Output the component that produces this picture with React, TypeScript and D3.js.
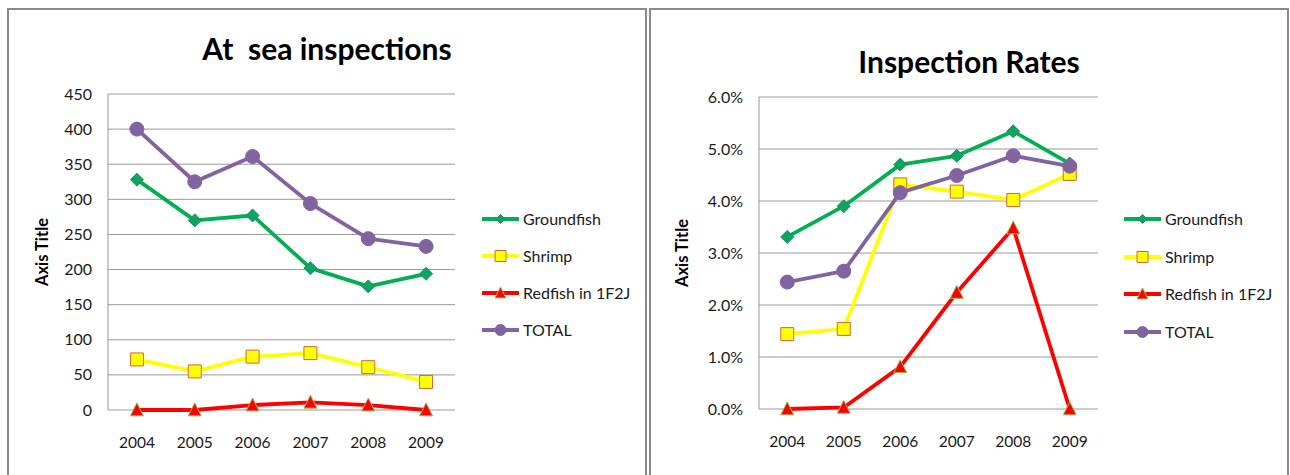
import React, { useEffect, useRef } from "react";
import * as d3 from "d3";

const years = ["2004", "2005", "2006", "2007", "2008", "2009"];
const seriesNames = ["Groundfish", "Shrimp", "Redfish in 1F2J", "TOTAL"];

// at sea inspections (counts)
const groundfishCount = [328, 270, 277, 202, 176, 194];
const shrimpCount = [72, 55, 76, 81, 61, 40];
const redfishCount = [0, 0, 7, 11, 7, 0];
const totalCount = [400, 325, 361, 294, 244, 233];
const countTicks = [0, 50, 100, 150, 200, 250, 300, 350, 400, 450];

// inspection rates
const groundfishRate = [0.0331, 0.039, 0.047, 0.0487, 0.0534, 0.0472];
const shrimpRate = [0.0144, 0.0154, 0.0432, 0.0418, 0.0402, 0.0452];
const redfishRate = [0, 0.0003, 0.0081, 0.0224, 0.0348, 0];
const totalRate = [0.0244, 0.0265, 0.0416, 0.0449, 0.0487, 0.0467];
const rateTicks = [0, 0.01, 0.02, 0.03, 0.04, 0.05, 0.06];

const FONT = "Lato, 'Open Sans', sans-serif";

const styles = [
  { line: "#00B050", fill: "#0BA55E", stroke: "#25876E", shape: "diamond" },
  { line: "#FFFF00", fill: "#FFFF00", stroke: "#D2643E", shape: "square" },
  { line: "#FF0000", fill: "#FF0000", stroke: "#9BBB59", shape: "triangle" },
  { line: "#8064A2", fill: "#8064A2", stroke: "#8064A2", shape: "circle" },
];

const markerPath = (shape, s) => {
  if (shape === "diamond") return `M0,${-s}L${s},0L0,${s}L${-s},0Z`;
  if (shape === "square") return `M${-s},${-s}H${s}V${s}H${-s}Z`;
  if (shape === "triangle") return `M0,${-s * 1.1}L${s},${s * 0.9}L${-s},${s * 0.9}Z`;
  return d3.arc()({ innerRadius: 0, outerRadius: s, startAngle: 0, endAngle: 2 * Math.PI });
};
const markerSize = { diamond: 6.5, square: 6.5, triangle: 6.5, circle: 7 };
const legendSize = { diamond: 4.5, square: 5.5, triangle: 5.5, circle: 5.5 };

function drawChart(svg, c) {
  const g = svg.append("g");

  // frame (runs past bottom edge like the crop)
  g.append("path")
    .attr("d", `M${c.fx0},520V${c.fy}H${c.fx1}V520`)
    .attr("fill", "none")
    .attr("stroke", "#8a8a8a")
    .attr("stroke-width", 2);

  g.append("text")
    .attr("x", (c.fx0 + c.fx1) / 2)
    .attr("y", c.titleY)
    .attr("text-anchor", "middle")
    .attr("font-family", FONT)
    .attr("font-weight", "bold")
    .attr("font-size", 30)
    .attr("fill", "#000")
    .style("white-space", "pre")
    .text(c.title);

  const x = d3.scaleBand().domain(years).range([c.x0, c.x1]);
  const y = d3.scaleLinear().domain(c.domain).range([c.y1, c.y0]);

  // gridlines
  g.selectAll(".grid")
    .data(c.ticks)
    .join("line")
    .attr("x1", c.x0)
    .attr("x2", c.x1)
    .attr("y1", (d) => y(d))
    .attr("y2", (d) => y(d))
    .attr("stroke", "#9a9a9a")
    .attr("stroke-width", 1);
  g.append("line")
    .attr("x1", c.x0).attr("x2", c.x0)
    .attr("y1", c.y0).attr("y2", c.y1)
    .attr("stroke", "#9a9a9a");

  g.selectAll(".ytick")
    .data(c.ticks)
    .join("text")
    .attr("x", c.x0 - 16)
    .attr("y", (d) => y(d) + 5.5)
    .attr("text-anchor", "end")
    .attr("font-family", FONT)
    .attr("font-size", 16)
    .attr("fill", "#1a1a1a")
    .text(c.fmt);

  g.selectAll(".xtick")
    .data(years)
    .join("text")
    .attr("x", (d) => x(d) + x.bandwidth() / 2)
    .attr("y", c.y1 + 38)
    .attr("text-anchor", "middle")
    .attr("font-family", FONT)
    .attr("font-size", 15.5)
    .attr("fill", "#1a1a1a")
    .text((d) => d);

  g.append("text")
    .attr("transform", `translate(${c.axisX},${(c.y0 + c.y1) / 2}) rotate(-90)`)
    .attr("text-anchor", "middle")
    .attr("font-family", FONT)
    .attr("font-weight", "bold")
    .attr("font-size", 16.5)
    .attr("fill", "#000")
    .text("Axis Title");

  const line = d3
    .line()
    .x((d, i) => x(years[i]) + x.bandwidth() / 2)
    .y((d) => y(d));

  c.series.forEach((vals, k) => {
    const st = styles[k];
    g.append("path")
      .attr("d", line(vals))
      .attr("fill", "none")
      .attr("stroke", st.line)
      .attr("stroke-width", 3.8)
      .attr("stroke-linejoin", "round");
    g.selectAll(`.m${k}`)
      .data(vals)
      .join("path")
      .attr("transform", (d, i) => `translate(${x(years[i]) + x.bandwidth() / 2},${y(d)})`)
      .attr("d", markerPath(st.shape, markerSize[st.shape]))
      .attr("fill", st.fill)
      .attr("stroke", st.stroke)
      .attr("stroke-width", 1);
  });

  // legend
  seriesNames.forEach((name, k) => {
    const st = styles[k];
    const ly = c.legendY[k];
    g.append("line")
      .attr("x1", c.lx).attr("x2", c.lx + 37)
      .attr("y1", ly).attr("y2", ly)
      .attr("stroke", st.line)
      .attr("stroke-width", 3.8);
    g.append("path")
      .attr("transform", `translate(${c.lx + 18.5},${ly})`)
      .attr("d", markerPath(st.shape, legendSize[st.shape]))
      .attr("fill", st.fill)
      .attr("stroke", st.stroke)
      .attr("stroke-width", 1);
    g.append("text")
      .attr("x", c.lx + 41)
      .attr("y", ly + 5.5)
      .attr("font-family", FONT)
      .attr("font-size", 16)
      .attr("fill", "#1a1a1a")
      .text(name);
  });
}

const App = () => {
  const svgRef = useRef(null);

  useEffect(() => {
    const svg = d3.select(svgRef.current);
    svg.selectAll("*").remove();

    drawChart(svg, {
      title: "At  sea inspections",
      fx0: 8, fx1: 646, fy: 9, titleY: 60,
      x0: 108, x1: 455, y0: 94, y1: 410,
      domain: [0, 450], ticks: countTicks, fmt: (d) => d,
      axisX: 48,
      series: [groundfishCount, shrimpCount, redfishCount, totalCount],
      lx: 482, legendY: [219, 256, 293, 330],
    });

    drawChart(svg, {
      title: "Inspection Rates",
      fx0: 650, fx1: 1288, fy: 9, titleY: 73,
      x0: 759, x1: 1098, y0: 97, y1: 409,
      domain: [0, 0.06], ticks: rateTicks, fmt: d3.format(".1%"),
      axisX: 688,
      series: [groundfishRate, shrimpRate, redfishRate, totalRate],
      lx: 1124, legendY: [219, 257, 294, 332],
    });
  }, []);

  return (
    <svg
      ref={svgRef}
      width={1290}
      height={475}
      style={{ position: "absolute", left: 0, top: 0, background: "#fff" }}
    ></svg>
  );
};

export default App;
